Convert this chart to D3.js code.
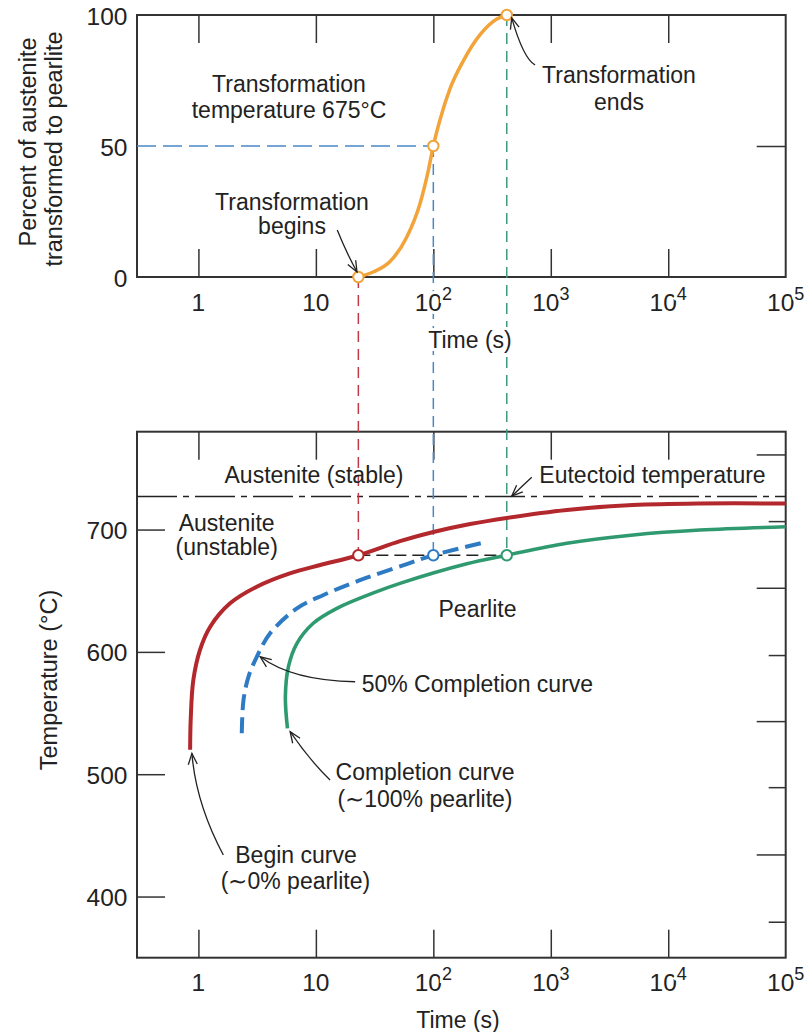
<!DOCTYPE html>
<html><head><meta charset="utf-8">
<script src="https://cdn.jsdelivr.net/npm/d3@7"></script>
<style>
body{margin:0;background:#fff;}
svg{display:block;font-family:"Liberation Sans",Arial,sans-serif;}
</style></head><body><svg id="c" width="812" height="1032"></svg>
<script>
// ---------------- data ----------------
const xTickValues = [1, 10, 100, 1000, 10000, 100000];
const xTickBase = ["1", "10", "10", "10", "10", "10"];
const xTickExp = ["", "", "2", "3", "4", "5"];
const topYTicks = [0, 50, 100];
const topYTickLabels = ["0", "50", "100"];
const bottomYTicks = [400, 500, 600, 700];
const bottomYTickLabels = ["400", "500", "600", "700"];
const rightTicksC = [761, 706.5, 652, 597, 543, 489, 434, 379];
const rightTickMajor = [true, false, true, false, true, false, true, false];

// upper plot: percent transformed vs time at 675 °C
const transTime = [23, 31, 43, 59, 77, 91, 100, 114, 139, 180, 250, 347, 422];
const transPercent = [0, 2, 6, 15, 28, 41, 50, 60, 72, 82.5, 92.5, 98.5, 100];

// lower plot: isothermal transformation curves
const beginTime = [0.85, 0.86, 0.905, 1.03, 1.26, 1.86, 3.14, 6.0, 10.9, 23, 52, 100, 206, 422, 1370, 5000, 18600, 100000];
const beginTemp = [520, 545, 577, 601.5, 620.6, 639.7, 653.3, 664.2, 671, 679, 690.5, 698, 704.5, 709.5, 716, 720, 721.3, 721.3];
const halfTime = [2.34, 2.42, 2.67, 3.14, 4.08, 6.9, 11.6, 19.5, 30.9, 59.4, 100, 285];
const halfTemp = [533.5, 560.7, 579.7, 596, 615.2, 635.6, 646.5, 655.5, 662.5, 671.8, 679, 690];
const endTime = [5.73, 5.5, 5.84, 6.9, 9.5, 15.1, 30.9, 52, 193, 422, 1370, 5040, 18600, 100000];
const endTemp = [537.5, 563.4, 587.9, 607, 623.4, 635.6, 648.2, 656, 672, 679, 688.8, 695.6, 699.6, 702.3];

const markerTimes = [23, 100, 422];
const markerPercents = [0, 50, 100];
const isoTemp = 679;
const eutectoidTemp = 727;

// ---------------- layout ----------------
const svg = d3.select("#c");
const ink = "#222";
const cRed = "#B3282D", cBlue = "#2E7BC4", cGreen = "#2F9A70", cOrange = "#F2A33A";
const cRedThin = "#C23A4A", cBlueThin = "#4A88C8", cGreenThin = "#3E9A80";

const x = d3.scaleLog().domain([0.3, 1e5]).range([137, 785.7]);
const yTop = d3.scaleLinear().domain([0, 100]).range([277, 15]);
const yBot = d3.scaleLinear().domain([350, 780]).range([957.7, 431.7]);

// arrow marker
svg.append("defs").append("marker")
  .attr("id", "arr").attr("markerUnits", "userSpaceOnUse")
  .attr("viewBox", "-13 -7 15 14").attr("refX", 0).attr("refY", 0)
  .attr("markerWidth", 15).attr("markerHeight", 14).attr("orient", "auto")
  .append("path").attr("d", "M-11,-4.5 L0,0 L-11,4.5")
  .attr("fill", "none").attr("stroke", ink).attr("stroke-width", 1.3);

function frame(ys) {
  const [b, t] = ys.range();
  svg.append("rect").attr("x", x.range()[0]).attr("y", t)
    .attr("width", x.range()[1] - x.range()[0]).attr("height", b - t)
    .attr("fill", "none").attr("stroke", "#333").attr("stroke-width", 2);
}
function xTicks(ys) {
  const [b, t] = ys.range();
  const vals = xTickValues.slice(0, 5);
  const gB = svg.append("g").attr("transform", `translate(0,${b})`)
    .call(d3.axisBottom(x).tickValues(vals).tickSize(-28).tickSizeOuter(0).tickFormat(""));
  const gT = svg.append("g").attr("transform", `translate(0,${t})`)
    .call(d3.axisTop(x).tickValues(vals).tickSize(-28).tickSizeOuter(0).tickFormat(""));
  [gB, gT].forEach(g => {
    g.select(".domain").remove();
    g.selectAll("line").attr("stroke", "#333").attr("stroke-width", 1.5);
  });
}
function xLabels(baseY) {
  const g = svg.append("g").attr("font-size", 24.5).attr("fill", ink).attr("text-anchor", "middle");
  xTickValues.forEach((v, i) => {
    const t = g.append("text").attr("x", x(v)).attr("y", baseY)
      .attr("stroke", "#fff").attr("stroke-width", 6).attr("paint-order", "stroke");
    t.append("tspan").text(xTickBase[i]);
    if (xTickExp[i]) t.append("tspan").attr("font-size", 18).attr("dy", -11).text(xTickExp[i]);
  });
}
function yLabels(ys, vals, labels) {
  const g = svg.append("g").attr("font-size", 24.5).attr("fill", ink).attr("text-anchor", "end");
  vals.forEach((v, i) => g.append("text").attr("x", 127.5).attr("y", ys(v) + 9.5).text(labels[i]));
}

// ---------------- frames & ticks ----------------
frame(yTop); frame(yBot);
xTicks(yTop); xTicks(yBot);

const gTR = svg.append("g").attr("transform", `translate(${x.range()[1]},0)`)
  .call(d3.axisRight(yTop).tickValues([50]).tickSize(-29).tickFormat(""));
gTR.select(".domain").remove();
gTR.selectAll("line").attr("stroke", "#333").attr("stroke-width", 1.5);

const gBL = svg.append("g").attr("transform", `translate(${x.range()[0]},0)`)
  .call(d3.axisLeft(yBot).tickValues(bottomYTicks).tickSize(-28).tickFormat(""));
gBL.select(".domain").remove();
gBL.selectAll("line").attr("stroke", "#333").attr("stroke-width", 1.5);

const gBR = svg.append("g");
rightTicksC.forEach((v, i) => {
  gBR.append("line").attr("x1", x.range()[1]).attr("x2", x.range()[1] - (rightTickMajor[i] ? 29 : 17))
    .attr("y1", yBot(v)).attr("y2", yBot(v)).attr("stroke", "#333").attr("stroke-width", 1.5);
});

// ---------------- guide lines ----------------
svg.append("line").attr("x1", x.range()[0]).attr("x2", x.range()[1])
  .attr("y1", yBot(eutectoidTemp)).attr("y2", yBot(eutectoidTemp))
  .attr("stroke", ink).attr("stroke-width", 1.6).attr("stroke-dasharray", "40,6,6,6");
svg.append("line").attr("x1", x(markerTimes[0])).attr("x2", x(markerTimes[2]))
  .attr("y1", yBot(isoTemp)).attr("y2", yBot(isoTemp))
  .attr("stroke", ink).attr("stroke-width", 1.5).attr("stroke-dasharray", "12,6");
svg.append("line").attr("x1", x.range()[0]).attr("x2", x(markerTimes[1]))
  .attr("y1", yTop(50)).attr("y2", yTop(50))
  .attr("stroke", cBlueThin).attr("stroke-width", 1.5).attr("stroke-dasharray", "19,7");
const thinCols = [cRedThin, cBlueThin, cGreenThin];
markerTimes.forEach((t, i) => {
  svg.append("line").attr("x1", x(t)).attr("x2", x(t))
    .attr("y1", yTop(markerPercents[i])).attr("y2", yBot(isoTemp))
    .attr("stroke", thinCols[i]).attr("stroke-width", 1.5).attr("stroke-dasharray", "11,7");
});

// ---------------- curves ----------------
const lineTop = d3.line().x(d => x(d[0])).y(d => yTop(d[1])).curve(d3.curveMonotoneX);
svg.append("path").attr("d", lineTop(d3.zip(transTime, transPercent)))
  .attr("fill", "none").attr("stroke", cOrange).attr("stroke-width", 3.5);

const lineBot = d3.line().x(d => x(d[0])).y(d => yBot(d[1])).curve(d3.curveCatmullRom.alpha(0.5));
svg.append("path").attr("d", lineBot(d3.zip(beginTime, beginTemp)))
  .attr("fill", "none").attr("stroke", cRed).attr("stroke-width", 4);
svg.append("path").attr("d", lineBot(d3.zip(endTime, endTemp)))
  .attr("fill", "none").attr("stroke", cGreen).attr("stroke-width", 3.6);
svg.append("path").attr("d", lineBot(d3.zip(halfTime, halfTemp)))
  .attr("fill", "none").attr("stroke", cBlue).attr("stroke-width", 4).attr("stroke-dasharray", "16,7");

// ---------------- markers ----------------
markerTimes.forEach((t, i) => {
  svg.append("circle").attr("cx", x(t)).attr("cy", yTop(markerPercents[i])).attr("r", 5.2)
    .attr("fill", "#fff").attr("stroke", cOrange).attr("stroke-width", 2);
});
const botMarkCols = [cRed, cBlue, cGreen];
markerTimes.forEach((t, i) => {
  svg.append("circle").attr("cx", x(t)).attr("cy", yBot(isoTemp)).attr("r", 5.2)
    .attr("fill", "#fff").attr("stroke", botMarkCols[i]).attr("stroke-width", 2);
});

// ---------------- arrows (data coords: from, control, to) ----------------
function arrow(ys, from, ctrl, to) {
  const p = d3.path();
  p.moveTo(x(from[0]), ys(from[1]));
  p.quadraticCurveTo(x(ctrl[0]), ys(ctrl[1]), x(to[0]), ys(to[1]));
  svg.append("path").attr("d", p.toString()).attr("fill", "none")
    .attr("stroke", ink).attr("stroke-width", 1.3).attr("marker-end", "url(#arr)");
}
arrow(yTop, [15.2, 17.9], [18.1, 9.5], [22.4, 1.9]);
arrow(yTop, [735, 80.9], [584, 83.4], [465, 98.9]);
arrow(yBot, [689, 742.7], [566, 735.1], [465, 727.3]);
arrow(yBot, [21.6, 575.6], [6.34, 576.4], [3.36, 596]);
arrow(yBot, [13.2, 495.3], [8.93, 511], [6.04, 534.8]);
arrow(yBot, [1.63, 434], [0.954, 475.8], [0.88, 517]);

// ---------------- text ----------------
xLabels(310.7);
xLabels(990.7);
yLabels(yTop, topYTicks, topYTickLabels);
yLabels(yBot, bottomYTicks, bottomYTickLabels);

function txt(s, px, py, anchor, size) {
  return svg.append("text").attr("x", px).attr("y", py).attr("text-anchor", anchor || "middle")
    .attr("font-size", size || 23).attr("fill", ink).text(s);
}
txt("Time (s)", 470, 348).attr("stroke", "#fff").attr("stroke-width", 6).attr("paint-order", "stroke");
txt("Time (s)", 458, 1028);
svg.append("text").attr("transform", "translate(36,142) rotate(-90)").attr("text-anchor", "middle")
  .attr("font-size", 23.5).attr("fill", ink).text("Percent of austenite");
svg.append("text").attr("transform", "translate(62,149) rotate(-90)").attr("text-anchor", "middle")
  .attr("font-size", 23.5).attr("fill", ink).text("transformed to pearlite");
svg.append("text").attr("transform", "translate(57,680) rotate(-90)").attr("text-anchor", "middle")
  .attr("font-size", 23.5).attr("fill", ink).text("Temperature (°C)");

txt("Transformation", 289, 92);
txt("temperature 675°C", 289, 118);
txt("Transformation", 292, 210);
txt("begins", 292, 234);
txt("Transformation", 619, 83);
txt("ends", 619, 110);

txt("Austenite (stable)", 314, 482.7);
txt("Eutectoid temperature", 652.5, 482.7);
txt("Austenite", 226.7, 530.7);
txt("(unstable)", 226.7, 555);
txt("Pearlite", 477.5, 616.7);
txt("50% Completion curve", 361.7, 691.7, "start");
txt("Completion curve", 425, 780);
txt("(\u223C100% pearlite)", 425, 806.5);
txt("Begin curve", 296, 863.3);
txt("(\u223C0% pearlite)", 295.5, 888.5);
</script></body></html>
